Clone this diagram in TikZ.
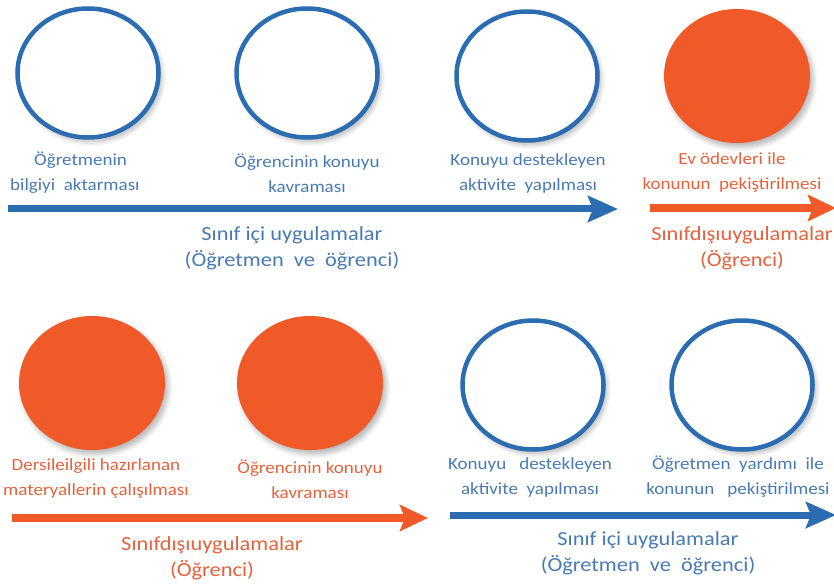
\documentclass[tikz,border=0pt]{standalone}
\usepackage{fontspec}
\setmainfont{Carlito}[FakeStretch=1.12]
\usetikzlibrary{shapes.geometric,arrows.meta,shadows.blur}
\definecolor{cblue}{RGB}{44,108,176}
\definecolor{corange}{RGB}{240,90,40}
\definecolor{tblue}{RGB}{72,122,180}
\definecolor{torange}{RGB}{230,98,60}
\tikzset{
  shd/.style={blur shadow={shadow xshift=3pt, shadow yshift=-4pt, shadow opacity=30, shadow blur steps=8, shadow blur radius=5pt}},
  ring/.style={ellipse, minimum width=141pt, minimum height=129pt, inner sep=0pt, draw=cblue, line width=4.5pt, fill=white, shd},
  disc/.style={ellipse, minimum width=146pt, minimum height=134pt, inner sep=0pt, fill=corange, shd},
  item/.style={font=\fontsize{17}{25}\selectfont, align=center, inner sep=0pt},
  lab/.style={font=\fontsize{20}{26}\selectfont, align=center, inner sep=0pt},
  barblue/.style={draw=cblue, line width=7pt, -{Stealth[length=30pt, width=26pt, inset=5pt]}},
  barorange/.style={draw=corange, line width=8pt, -{Stealth[length=28pt, width=26pt, inset=5pt]}},
}
\begin{document}
\begin{tikzpicture}[x=1pt,y=-1pt]
\useasboundingbox (0,0) rectangle (834,585);
% arrow positions
\coordinate (s1) at (8,209);
\coordinate (e1) at (618,209);
\coordinate (s2) at (650,208);
\coordinate (e2) at (836,208);
\coordinate (s3) at (12,518);
\coordinate (e3) at (428,518);
\coordinate (s4) at (450,515);
\coordinate (e4) at (836,515);
% top row
\node[ring] (a1) at (88,73) {};
\node[ring] (a2) at (307,73) {};
\node[ring] (a3) at (527,76) {};
\node[disc] (a4) at (737,76) {};
\node[item, text=tblue, align=left, anchor=west] (ta1) at (10,173) {\hspace*{24pt}Öğretmenin\\bilgiyi\ \ aktarması};
\node[item, text=tblue] (ta2) at (307,173) {Öğrencinin konuyu\\kavraması};
\node[item, text=tblue] (ta3) at (528,173) {Konuyu destekleyen\\aktivite\ \ yapılması};
\node[item, text=torange] (ta4) at (732,173) {Ev ödevleri ile\\konunun\ \ pekiştirilmesi};
\draw[barblue] (s1) -- (e1);
\draw[barorange] (s2) -- (e2);
\node[lab, text=tblue] (la1) at (292,248) {Sınıf içi uygulamalar\\(Öğretmen\ \ ve\ \ öğrenci)};
\node[lab, text=torange] (la2) at (742,248) {Sınıfdışıuygulamalar\\(Öğrenci)};
% bottom row
\node[disc] (b1) at (92,383) {};
\node[disc] (b2) at (310,383) {};
\node[ring] (b3) at (533,385) {};
\node[ring] (b4) at (742,385) {};
\node[item, text=torange] (tb1) at (96,479) {Dersileilgili hazırlanan\\materyallerin çalışılması};
\node[item, text=torange] (tb2) at (310,479) {Öğrencinin konuyu\\kavraması};
\node[item, text=tblue] (tb3) at (530,477) {Konuyu\ \ \ destekleyen\\aktivite\ \ yapılması};
\node[item, text=tblue] (tb4) at (738,477) {Öğretmen\ \ yardımı\ \ ile\\konunun\ \ \ pekiştirilmesi};
\draw[barorange] (s3) -- (e3);
\draw[barblue] (s4) -- (e4);
\node[lab, text=torange] (lb1) at (212,558) {Sınıfdışıuygulamalar\\(Öğrenci)};
\node[lab, text=tblue] (lb2) at (648,553) {Sınıf içi uygulamalar\\(Öğretmen\ \ ve\ \ öğrenci)};
\end{tikzpicture}
\end{document}
